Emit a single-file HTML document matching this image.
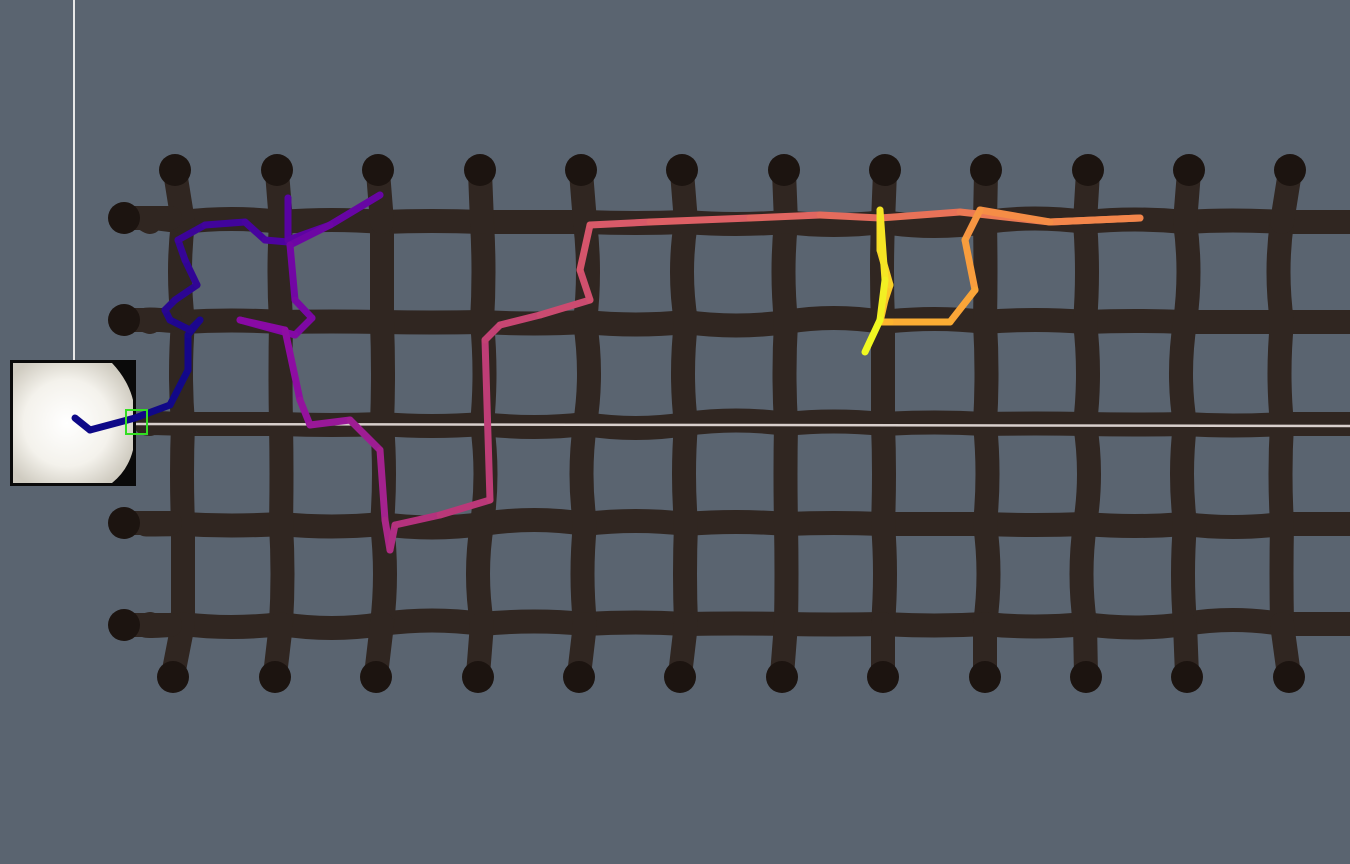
<!DOCTYPE html>
<html><head><meta charset="utf-8"><style>
html,body{margin:0;padding:0;background:#5a6470;width:1350px;height:864px;overflow:hidden}
svg{display:block}
</style></head><body>
<svg id="scene" width="1350" height="864" viewBox="0 0 1350 864">
<defs>
<radialGradient id="glow" cx="0.45" cy="0.5" r="0.6">
<stop offset="0" stop-color="#ffffff"/><stop offset="0.6" stop-color="#f4f2ec"/><stop offset="1" stop-color="#cfcbc0"/>
</radialGradient>
</defs>
<rect width="1350" height="864" fill="#5a6470"/>
<g id="maze" stroke="#302621" stroke-width="24" fill="none" stroke-linecap="round" stroke-linejoin="round"></g>
<g id="dots" fill="#1c1410"></g>
<line x1="74" y1="0" x2="74" y2="362" stroke="#e8e8e8" stroke-width="2"/>
<line x1="135" y1="424" x2="1350" y2="426" stroke="#d8cfcc" stroke-width="2.5"/>
<g>
<rect x="10" y="360" width="126" height="126" fill="#0a0a0a"/>
<path d="M13 363 H112 Q128 380 133 400 V450 Q128 470 112 483 H13 Z" fill="url(#glow)"/>
</g>
<g id="path" fill="none" stroke-width="7" stroke-linecap="round" stroke-linejoin="round"></g>
<rect x="126" y="410" width="21" height="24" fill="none" stroke="#33dd22" stroke-width="2"/>
</svg>
<script>
const topDotsX=[175,277,378,480,581,682,784,885,986,1088,1189,1290];
const botDotsX=[173,275,376,478,579,680,782,883,985,1086,1187,1289];
const leftDotsY=[218,320,523,625];
const pathX=[75,90,135,170,188,188,200,190,170,165,175,197,185,178,205,245,265,288,288,288,330,380,330,290,295,312,295,240,285,300,310,350,380,385,390,395,440,490,485,500,540,590,580,590,650,750,820,880,960,1050,1140,1050,980,965,975,950,890,880,885,890,880,880,885,880,865];
const pathY=[418,430,418,405,370,335,320,330,320,310,300,285,260,240,225,222,240,242,198,240,225,195,225,245,300,318,335,320,330,400,425,420,450,520,550,525,515,500,340,325,315,300,270,225,222,218,215,218,212,222,218,222,210,240,290,322,322,322,300,285,250,210,280,320,352];
const NS='http://www.w3.org/2000/svg';
const maze=document.getElementById('maze');
const hY=[222,322,424,524,624];
const vX=[183,281,382,482,585,686,786,883,985,1085,1185,1282];
function wob(i,j){return ((i*37+j*53)%17)-8;}
hY.forEach((y,i)=>{let d='M150 '+y;for(let j=0;j<vX.length;j++){d+=' Q'+(vX[j]-50)+' '+(y+wob(i,j))+' '+vX[j]+' '+y;}d+=' L1350 '+y;
const p=document.createElementNS(NS,'path');p.setAttribute('d',d);


maze.appendChild(p);});
vX.forEach((x,j)=>{let d='M'+x+' 222';for(let i=1;i<hY.length;i++){d+=' Q'+(x+wob(j,i))+' '+(hY[i]-50)+' '+x+' '+hY[i];}
const p=document.createElementNS(NS,'path');p.setAttribute('d',d);


maze.appendChild(p);});
topDotsX.forEach((x,j)=>{const l=document.createElementNS(NS,'line');l.setAttribute('x1',x);l.setAttribute('y1',172);l.setAttribute('x2',vX[j]);l.setAttribute('y2',222);


maze.appendChild(l);});
botDotsX.forEach((x,j)=>{const l=document.createElementNS(NS,'line');l.setAttribute('x1',x);l.setAttribute('y1',675);l.setAttribute('x2',vX[j]);l.setAttribute('y2',624);


maze.appendChild(l);});
leftDotsY.forEach(y=>{const l=document.createElementNS(NS,'line');l.setAttribute('x1',124);l.setAttribute('y1',y);l.setAttribute('x2',170);l.setAttribute('y2',y);


maze.appendChild(l);});
const dots=document.getElementById('dots');
function dot(x,y){const c=document.createElementNS(NS,'circle');c.setAttribute('cx',x);c.setAttribute('cy',y);c.setAttribute('r',16);


dots.appendChild(c);}
topDotsX.forEach(x=>dot(x,170));botDotsX.forEach(x=>dot(x,677));leftDotsY.forEach(y=>dot(124,y));
const stops=[[13,8,135],[84,2,163],[139,10,165],[185,55,121],[219,92,104],[244,136,73],[254,188,43],[240,249,33]];
function plasma(t){const s=t*(stops.length-1);const i=Math.min(Math.floor(s),stops.length-2);const f=s-i;
const c=stops[i].map((v,k)=>Math.round(v+(stops[i+1][k]-v)*f));return 'rgb('+c.join(',')+')';}
const pg=document.getElementById('path');
for(let i=0;i<pathX.length-1;i++){const l=document.createElementNS(NS,'line');
l.setAttribute('x1',pathX[i]);l.setAttribute('y1',pathY[i]);l.setAttribute('x2',pathX[i+1]);l.setAttribute('y2',pathY[i+1]);
l.setAttribute('stroke',plasma(Math.pow(i/(pathX.length-2),1.5)));


pg.appendChild(l);}
</script>
</body></html>
